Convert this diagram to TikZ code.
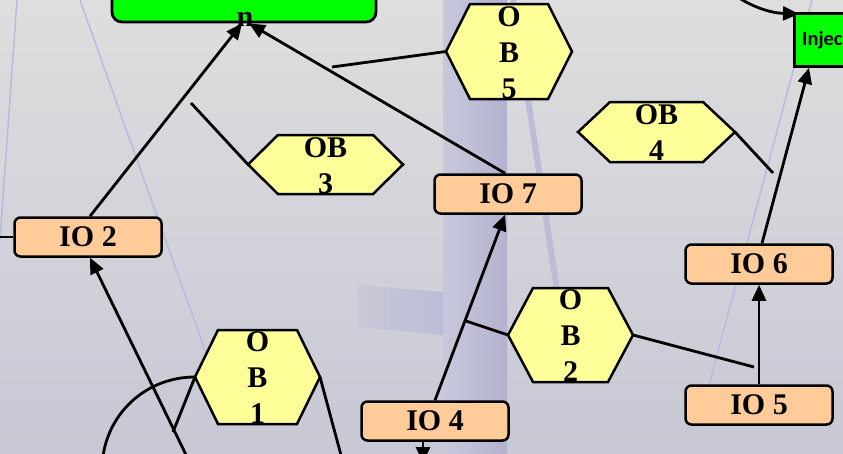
\documentclass[tikz,border=0pt]{standalone}
\usepackage{fontspec}
\setmainfont{Liberation Serif}
\newfontfamily\calibfont{Carlito}
\usetikzlibrary{arrows.meta}
\pgfdeclarelayer{back}
\pgfdeclarelayer{conn}
\pgfsetlayers{back,conn,main}
\definecolor{ioFill}{HTML}{FFCC99}
\definecolor{hexFill}{HTML}{FFFF99}
\definecolor{grn}{HTML}{00FF00}
\definecolor{bgTop}{HTML}{DEDEDE}
\definecolor{bgBot}{HTML}{C8C8D6}
\definecolor{bandL}{HTML}{C8C8DC}
\definecolor{bandR}{HTML}{B2B2CE}
\definecolor{decoC}{HTML}{BCBCD8}
\definecolor{lineC}{HTML}{BABAE0}
\tikzset{
  iobox/.style={draw, line width=2.5pt, rounded corners=6pt, fill=ioFill,
    minimum width=147pt, minimum height=39pt, inner sep=0pt,
    font=\fontsize{30}{36}\selectfont\bfseries},
  hexshape/.style={draw, line width=2.5pt, fill=hexFill, line join=miter},
  hextext/.style={align=center, inner sep=0pt,
    font=\fontsize{30}{36}\selectfont\bfseries},
  conn/.style={line width=2.8pt},
  arr/.style={conn, -{Triangle[length=16pt,width=14pt]}},
}
\newcommand\hexnode[7]{%
  \path[hexshape] (#2-#4/2,#3) -- (#2-#4/2+#6,#3-#5/2) -- (#2+#4/2-#6,#3-#5/2)
    -- (#2+#4/2,#3) -- (#2+#4/2-#6,#3+#5/2) -- (#2-#4/2+#6,#3+#5/2) -- cycle;
  \coordinate (#1-w) at (#2-#4/2,#3);
  \coordinate (#1-e) at (#2+#4/2,#3);
  \node[hextext] (#1) at (#2,#3+1) {#7};}
\begin{document}
\begin{tikzpicture}[x=1pt,y=-1pt]
\useasboundingbox (0,0) rectangle (843,453);
% background
\begin{pgfonlayer}{back}
  \shade[top color=bgTop, bottom color=bgBot] (0,0) rectangle (843,453);
  \shade[left color=bandL, right color=bandR] (443,-2) rectangle (507,455);
  \shade[left color=bgBot, right color=decoC] (358,285) -- (443,292) -- (443,335) -- (358,327) -- cycle;
  \draw[line width=6pt, decoC] (513,0) -- (557,290);
  \draw[line width=1.5pt, lineC] (17,0) -- (0,240);
  \draw[line width=1.5pt, lineC] (80,0) -- (212,370);
  \draw[line width=1.5pt, lineC] (812,0) -- (705,400);
\end{pgfonlayer}
% nodes
\node[draw, line width=2.8pt, rounded corners=10pt, fill=grn,
      minimum width=264pt, minimum height=62pt] (gbox) at (244,-9) {};
\node[hextext] (ntext) at (245,19) {n};
\node[draw, line width=2.8pt, fill=grn, minimum width=80pt, minimum height=53pt,
      anchor=north west] (inj) at (793,12) {};
\node[font=\calibfont\bfseries\fontsize{20.3}{24}\selectfont, anchor=west, inner sep=0pt]
      (injtext) at (802,40) {Injec};
\node[iobox] (io2) at (88,237) {IO 2};
\node[iobox] (io7) at (508,194) {IO 7};
\node[iobox] (io6) at (759,264) {IO 6};
\node[iobox] (io5) at (759,405) {IO 5};
\node[iobox] (io4) at (435,421) {IO 4};
\hexnode{ob5}{509}{51.5}{126}{95}{24}{O\\B\\5}
\hexnode{ob3}{325.5}{164.5}{155}{59}{30}{OB\\3}
\hexnode{ob4}{656.5}{132}{157}{60}{32}{OB\\4}
\hexnode{ob2}{570.5}{335}{125}{94}{25}{O\\B\\2}
\hexnode{ob1}{257.5}{377}{125}{94}{23}{O\\B\\1}
% free ends
\coordinate (c5) at (332,67);
\coordinate (c3) at (191,103);
\coordinate (c4) at (773,173);
\coordinate (c2a) at (466,321);
\coordinate (c2b) at (754,367);
\coordinate (c1a) at (173,432);
\coordinate (c1b) at (345,470);
\coordinate (c1c) at (102,470);
\coordinate (c2s) at (191,465);
\coordinate (c2l) at (-5,237);
\coordinate (cin) at (725,-12);
\coordinate (c4d) at (423,463);
% connectors
\begin{pgfonlayer}{conn}
  \draw[arr] ([xshift=2pt]io2.north) -- ([xshift=-2pt]gbox.south);
  \draw[arr] ([xshift=-3pt]io7.north) -- ([xshift=5pt]gbox.south);
  \draw[conn] (ob5-w) -- (c5);
  \draw[conn] (ob3-w) -- (c3);
  \draw[conn] (ob4-e) -- (c4);
  \draw[arr] ([xshift=3pt]io6.north) -- ([xshift=16pt]inj.south west);
  \draw[arr] (cin) .. controls (750,8) and (772,13) .. ([xshift=6pt,yshift=-2pt]inj.north west);
  \draw[arr] (io5.north) -- (io6.south);
  \draw[arr] (io4.north) -- ([xshift=-3pt]io7.south);
  \draw[conn] (ob2-w) -- (c2a);
  \draw[conn] (ob2-e) -- (c2b);
  \draw[arr] ([xshift=-12pt]io4.south) -- (c4d);
  \draw[conn] (ob1-w) -- (c1a);
  \draw[conn] (ob1-e) -- (c1b);
  \draw[conn] (ob1-w) .. controls (143,377) and (102,418) .. (c1c);
  \draw[arr] (c2s) -- ([xshift=2pt]io2.south);
  \draw[conn] (io2.west) -- (c2l);
\end{pgfonlayer}
\end{tikzpicture}
\end{document}
